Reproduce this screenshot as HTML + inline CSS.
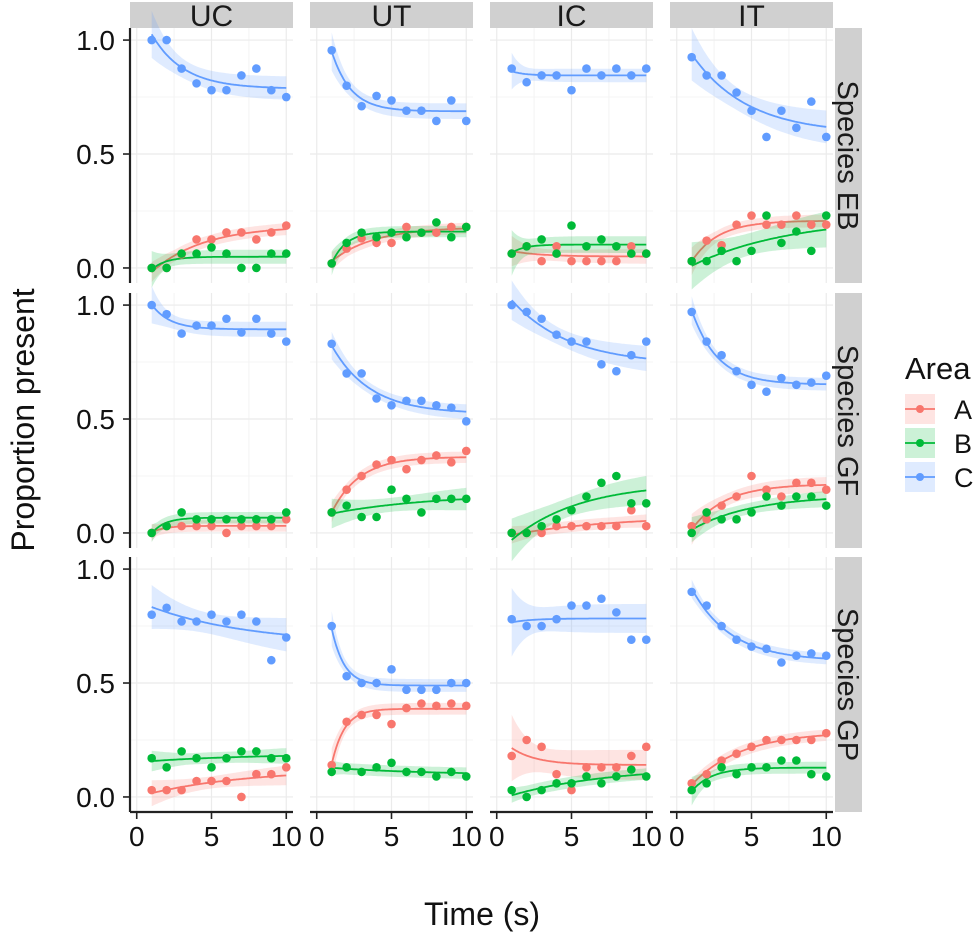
<!DOCTYPE html>
<html><head><meta charset="utf-8"><style>
html,body{margin:0;padding:0;background:#fff;}
svg{display:block;font-family:"Liberation Sans",Arial,sans-serif;}
</style></head><body>
<svg id="chart" width="980" height="937" viewBox="0 0 980 937" xmlns="http://www.w3.org/2000/svg"></svg>
<script>
const columns = ["UC","UT","IC","IT"];
const rows = ["Species EB","Species GF","Species GP"];
const areas = ["A","B","C"];
const times = [1,2,3,4,5,6,7,8,9,10];
const xTicks = [0,5,10];
const yTicks = [0,0.5,1];
const yTickLabels = ["0.0","0.5","1.0"];
const EB_UC_A=[0,0,0.06,0.125,0.125,0.156,0.156,0.125,0.156,0.186];
const EB_UC_B=[0,0,0.063,0.063,0.09,0.063,0,0,0.063,0.063];
const EB_UC_C=[1,1,0.875,0.81,0.78,0.78,0.845,0.875,0.78,0.75];
const EB_UT_A=[0.02,0.085,0.13,0.11,0.11,0.18,0.155,0.155,0.18,0.18];
const EB_UT_B=[0.02,0.11,0.155,0.135,0.155,0.135,0.155,0.2,0.135,0.18];
const EB_UT_C=[0.955,0.8,0.71,0.755,0.735,0.69,0.69,0.645,0.735,0.645];
const EB_IC_A=[0.063,0.095,0.03,0.095,0.03,0.03,0.03,0.03,0.095,0.063];
const EB_IC_B=[0.063,0.095,0.125,0.063,0.186,0.095,0.125,0.095,0.063,0.063];
const EB_IC_C=[0.875,0.815,0.845,0.845,0.78,0.875,0.845,0.875,0.845,0.875];
const EB_IT_A=[0.03,0.12,0.1,0.19,0.23,0.19,0.19,0.23,0.19,0.19];
const EB_IT_B=[0.03,0.03,0.075,0.03,0.075,0.23,0.11,0.16,0.075,0.23];
const EB_IT_C=[0.925,0.845,0.845,0.77,0.69,0.575,0.69,0.615,0.73,0.575];
const GF_UC_A=[0,0.03,0.03,0.03,0.03,0,0.03,0.03,0.03,0.06];
const GF_UC_B=[0,0.03,0.09,0.06,0.06,0.06,0.06,0.06,0.06,0.09];
const GF_UC_C=[1,0.96,0.875,0.91,0.91,0.94,0.88,0.94,0.875,0.84];
const GF_UT_A=[0.09,0.19,0.25,0.3,0.32,0.28,0.32,0.34,0.31,0.36];
const GF_UT_B=[0.09,0.12,0.07,0.07,0.19,0.15,0.09,0.15,0.15,0.15];
const GF_UT_C=[0.83,0.7,0.7,0.59,0.56,0.58,0.58,0.56,0.55,0.49];
const GF_IC_A=[0,0,0,0.03,0.03,0.03,0.03,0.03,0.1,0.03];
const GF_IC_B=[0,0,0.03,0.06,0.1,0.16,0.22,0.25,0.13,0.13];
const GF_IC_C=[1,0.97,0.94,0.87,0.84,0.84,0.74,0.71,0.78,0.84];
const GF_IT_A=[0.03,0.06,0.12,0.16,0.25,0.19,0.16,0.22,0.22,0.19];
const GF_IT_B=[0,0.09,0.06,0.06,0.09,0.16,0.12,0.16,0.16,0.12];
const GF_IT_C=[0.97,0.84,0.78,0.71,0.65,0.62,0.68,0.65,0.66,0.69];
const GP_UC_A=[0.03,0.03,0.03,0.07,0.07,0.07,0,0.1,0.1,0.13];
const GP_UC_B=[0.17,0.13,0.2,0.17,0.13,0.17,0.2,0.2,0.17,0.17];
const GP_UC_C=[0.8,0.83,0.77,0.77,0.8,0.77,0.8,0.77,0.6,0.7];
const GP_UT_A=[0.14,0.33,0.36,0.36,0.32,0.39,0.41,0.4,0.41,0.4];
const GP_UT_B=[0.11,0.13,0.11,0.13,0.15,0.11,0.11,0.09,0.11,0.09];
const GP_UT_C=[0.75,0.53,0.5,0.5,0.56,0.47,0.47,0.47,0.5,0.5];
const GP_IC_A=[0.18,0.25,0.22,0.1,0.03,0.13,0.13,0.13,0.18,0.22];
const GP_IC_B=[0.03,0,0.03,0.06,0.06,0.09,0.06,0.09,0.12,0.09];
const GP_IC_C=[0.78,0.75,0.75,0.78,0.84,0.84,0.87,0.81,0.69,0.69];
const GP_IT_A=[0.06,0.1,0.16,0.19,0.22,0.25,0.25,0.25,0.25,0.28];
const GP_IT_B=[0.03,0.06,0.13,0.1,0.13,0.13,0.16,0.16,0.1,0.09];
const GP_IT_C=[0.9,0.84,0.75,0.69,0.66,0.65,0.59,0.62,0.63,0.62];
const values=[
 [[EB_UC_A,EB_UC_B,EB_UC_C],[EB_UT_A,EB_UT_B,EB_UT_C],[EB_IC_A,EB_IC_B,EB_IC_C],[EB_IT_A,EB_IT_B,EB_IT_C]],
 [[GF_UC_A,GF_UC_B,GF_UC_C],[GF_UT_A,GF_UT_B,GF_UT_C],[GF_IC_A,GF_IC_B,GF_IC_C],[GF_IT_A,GF_IT_B,GF_IT_C]],
 [[GP_UC_A,GP_UC_B,GP_UC_C],[GP_UT_A,GP_UT_B,GP_UT_C],[GP_IC_A,GP_IC_B,GP_IC_C],[GP_IT_A,GP_IT_B,GP_IT_C]]
];
const colors={A:"#F8766D",B:"#00BA38",C:"#619CFF"};

const NS="http://www.w3.org/2000/svg";
const svg=document.getElementById("chart");
function mk(tag,attrs,parent){const e=document.createElementNS(NS,tag);for(const k in attrs)e.setAttribute(k,attrs[k]);(parent||svg).appendChild(e);return e;}
const colLeft=[130,310,490,670], PW=163, rowTop=[28,293,557], PH=255;
const xMin=-0.45,xMax=10.45,yMin=-0.066,yMax=1.053;
function xs(c,v){return colLeft[c]+(v-xMin)/(xMax-xMin)*PW;}
function ys(r,v){return rowTop[r]+(yMax-v)/(yMax-yMin)*PH;}

function fit(xv,yv){
  let best=null;
  for(let k=0.15;k<=1.2;k+=0.01){
    const f=xv.map(x=>Math.exp(-k*(x-1)));
    const n=xv.length,mf=f.reduce((a,b)=>a+b)/n,my=yv.reduce((a,b)=>a+b)/n;
    let sxy=0,sxx=0;for(let i=0;i<n;i++){sxy+=(f[i]-mf)*(yv[i]-my);sxx+=(f[i]-mf)**2;}
    const b=sxx>0?sxy/sxx:0,a=my-b*mf;
    let sse=0;for(let i=0;i<n;i++)sse+=(yv[i]-a-b*f[i])**2;
    if(!best||sse<best.sse)best={k,a,b,sse,mf,sxx,n};
  }
  return best;
}

columns.forEach((c,ci)=>{
  const g=mk("g",{});
  
  
  mk("rect",{x:colLeft[ci],y:2,width:PW,height:26,fill:"#D0D0D0"},g);
  const t=mk("text",{x:colLeft[ci]+PW/2,y:26,"text-anchor":"middle","font-size":30,fill:"#1a1a1a"},g);t.textContent=c;
});
rows.forEach((r,ri)=>{
  const g=mk("g",{});
  
  
  mk("rect",{x:835,y:rowTop[ri],width:27,height:PH,fill:"#D0D0D0"},g);
  const cx=838,cy=rowTop[ri]+PH/2;
  const t=mk("text",{x:cx,y:cy,"text-anchor":"middle","font-size":29,fill:"#1a1a1a",transform:`rotate(90 ${cx} ${cy})`},g);t.textContent=r;
});

for(let ri=0;ri<3;ri++)for(let ci=0;ci<4;ci++){
  const g=mk("g",{});
  
  
  const L=colLeft[ci],T=rowTop[ri];
  [2.5,7.5].forEach(v=>mk("line",{x1:xs(ci,v),x2:xs(ci,v),y1:T,y2:T+PH,stroke:"#F4F4F4","stroke-width":1},g));
  [0.25,0.75].forEach(v=>mk("line",{x1:L,x2:L+PW,y1:ys(ri,v),y2:ys(ri,v),stroke:"#F4F4F4","stroke-width":1},g));
  xTicks.forEach(v=>mk("line",{x1:xs(ci,v),x2:xs(ci,v),y1:T,y2:T+PH,stroke:"#EBEBEB","stroke-width":1.2},g));
  yTicks.forEach(v=>mk("line",{x1:L,x2:L+PW,y1:ys(ri,v),y2:ys(ri,v),stroke:"#EBEBEB","stroke-width":1.2},g));
  areas.forEach((a,ai)=>{
    const yv=values[ri][ci][ai];
    const m=fit(times,yv);
    const s=Math.sqrt(m.sse/(m.n-2));
    const pts=[];for(let x=1;x<=10.001;x+=0.1){
      const f=Math.exp(-m.k*(x-1));const y=m.a+m.b*f;
      const se=Math.max(0.025,s*Math.sqrt(1/m.n+(m.sxx>0?(f-m.mf)**2/m.sxx:0))*2.6);
      pts.push([x,y,se]);}
    const up=pts.map(p=>`${xs(ci,p[0]).toFixed(1)},${ys(ri,p[1]+p[2]).toFixed(1)}`);
    const lo=pts.slice().reverse().map(p=>`${xs(ci,p[0]).toFixed(1)},${ys(ri,p[1]-p[2]).toFixed(1)}`);
    const rib=mk("polygon",{points:up.concat(lo).join(" "),fill:colors[a],"fill-opacity":0.2},g);
    
    
    const ln=mk("polyline",{points:pts.map(p=>`${xs(ci,p[0]).toFixed(1)},${ys(ri,p[1]).toFixed(1)}`).join(" "),fill:"none",stroke:colors[a],"stroke-width":1.8},g);
    
    
  });
  areas.forEach((a,ai)=>{
    values[ri][ci][ai].forEach((v,i)=>{
      const c=mk("circle",{cx:xs(ci,times[i]),cy:ys(ri,v),r:4.3,fill:colors[a]},g);
      
      
    });
  });
}
rows.forEach((r,ri)=>{
  const g=mk("g",{});
  
  
  mk("line",{x1:130,x2:130,y1:rowTop[ri],y2:rowTop[ri]+PH,stroke:"#222","stroke-width":2.2},g);
  yTicks.forEach((v,i)=>{
    mk("line",{x1:123,x2:130,y1:ys(ri,v),y2:ys(ri,v),stroke:"#222","stroke-width":1.6},g);
    const t=mk("text",{x:115,y:ys(ri,v)+10,"text-anchor":"end","font-size":28,fill:"#111"},g);t.textContent=yTickLabels[i];
  });
});
columns.forEach((c,ci)=>{
  const g=mk("g",{});
  
  
  mk("line",{x1:colLeft[ci],x2:colLeft[ci]+PW,y1:812,y2:812,stroke:"#222","stroke-width":2.2},g);
  xTicks.forEach(v=>{
    mk("line",{x1:xs(ci,v),x2:xs(ci,v),y1:812,y2:819,stroke:"#222","stroke-width":1.6},g);
    const t=mk("text",{x:xs(ci,v),y:846,"text-anchor":"middle","font-size":28,fill:"#111"},g);t.textContent=v;
  });
});
</script>
<svg style="position:absolute;left:0;top:0" width="980" height="937">
<text x="482" y="925" text-anchor="middle" font-size="32" font-family="Liberation Sans,sans-serif" fill="#111">Time (s)</text>
<text x="34" y="420" text-anchor="middle" font-size="32" font-family="Liberation Sans,sans-serif" fill="#111" transform="rotate(-90 34 420)">Proportion present</text>
<g font-family="Liberation Sans,sans-serif">
<text x="905" y="379" font-size="31" fill="#111">Area</text>
<g><rect x="905" y="394" width="30" height="30" fill="#F8766D" fill-opacity="0.2"/><line x1="905" x2="935" y1="409" y2="409" stroke="#F8766D" stroke-width="1.8"/><circle cx="920" cy="409" r="4" fill="#F8766D"/><text x="954" y="419" font-size="27" fill="#111">A</text></g>
<g><rect x="905" y="428" width="30" height="30" fill="#00BA38" fill-opacity="0.2"/><line x1="905" x2="935" y1="443" y2="443" stroke="#00BA38" stroke-width="1.8"/><circle cx="920" cy="443" r="4" fill="#00BA38"/><text x="954" y="453" font-size="27" fill="#111">B</text></g>
<g><rect x="905" y="462" width="30" height="30" fill="#619CFF" fill-opacity="0.2"/><line x1="905" x2="935" y1="477" y2="477" stroke="#619CFF" stroke-width="1.8"/><circle cx="920" cy="477" r="4" fill="#619CFF"/><text x="954" y="487" font-size="27" fill="#111">C</text></g>
</g>
</svg>
</body></html>
